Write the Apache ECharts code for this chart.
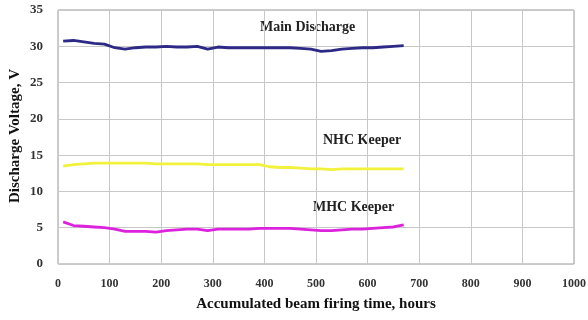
<!DOCTYPE html>
<html><head><meta charset="utf-8">
<script src="https://cdn.jsdelivr.net/npm/echarts@6/dist/echarts.min.js"></script>
<style>html,body{margin:0;padding:0;background:#fff}#c{width:588px;height:320px}</style>
</head><body><div id="c"></div>
<script>
const hours = [10,30,50,70,90,110,130,150,170,190,210,230,250,270,290,310,330,350,370,390,410,430,450,470,490,510,530,550,570,590,610,630,650,670];
const mainDischarge = [30.7,30.8,30.6,30.4,30.3,29.8,29.6,29.8,29.9,29.9,30.0,29.9,29.9,30.0,29.6,29.9,29.8,29.8,29.8,29.8,29.8,29.8,29.8,29.7,29.6,29.3,29.4,29.6,29.7,29.8,29.8,29.9,30.0,30.1];
const nhcKeeper = [13.5,13.7,13.8,13.9,13.9,13.9,13.9,13.9,13.9,13.8,13.8,13.8,13.8,13.8,13.7,13.7,13.7,13.7,13.7,13.7,13.4,13.3,13.3,13.2,13.1,13.1,13.0,13.1,13.1,13.1,13.1,13.1,13.1,13.1];
const mhcKeeper = [5.8,5.3,5.2,5.1,5.0,4.8,4.5,4.5,4.5,4.4,4.6,4.7,4.8,4.8,4.6,4.8,4.8,4.8,4.8,4.9,4.9,4.9,4.9,4.8,4.7,4.6,4.6,4.7,4.8,4.8,4.9,5.0,5.1,5.4];
const seriesNames = ['Main Discharge','NHC Keeper','MHC Keeper'];
const xTitle = 'Accumulated beam firing time, hours';
const yTitle = 'Discharge Voltage, V';

const font = '"Liberation Serif", "DejaVu Serif", serif';
const pair = arr => hours.map((h,i)=>[h,arr[i]]);
const chart = echarts.init(document.getElementById('c'));
const mk = (name, data, color) => ({
  name, type:'line', data: pair(data), showSymbol:false, smooth:false,
  lineStyle:{color, width:2.8}, itemStyle:{color}
});
chart.setOption({
  animation:false,
  grid:{left:58, right:14, top:10, bottom:56, show:true, borderColor:'#9a9a9a', borderWidth:1, containLabel:false, outerBoundsMode:'none'},
  xAxis:{type:'value', min:0, max:1000, interval:100,
    name:xTitle, nameLocation:'middle', nameGap:33,
    nameTextStyle:{fontFamily:font, fontWeight:'bold', fontSize:15, color:'#111'},
    axisLine:{show:false}, axisTick:{show:false},
    axisLabel:{fontFamily:font, fontWeight:'bold', fontSize:12, color:'#333', margin:14, formatter: v => String(v)},
    splitLine:{lineStyle:{color:'#c8c8c8'}}},
  yAxis:{type:'value', min:0, max:35, interval:5,
    axisLine:{show:false}, axisTick:{show:false},
    axisLabel:{fontFamily:font, fontWeight:'bold', fontSize:13, color:'#333', margin:15, formatter: v => String(v)},
    splitLine:{lineStyle:{color:'#c8c8c8'}}},
  series:[
    mk(seriesNames[0], mainDischarge, '#2c2a86'),
    mk(seriesNames[1], nhcKeeper, '#f2f23c'),
    mk(seriesNames[2], mhcKeeper, '#dd22dd')
  ],
  graphic:[
    {type:'text', x:15, y:136, rotation:Math.PI/2, style:{text:yTitle, font:'bold 15px '+font, fill:'#111', align:'center', verticalAlign:'middle'}},
    {type:'text', left:260, top:20, style:{text:seriesNames[0], font:'bold 14px '+font, fill:'#222'}},
    {type:'text', left:323, top:133, style:{text:seriesNames[1], font:'bold 14px '+font, fill:'#222'}},
    {type:'text', left:313, top:200, style:{text:seriesNames[2], font:'bold 14px '+font, fill:'#222'}}
  ]
});
</script></body></html>
